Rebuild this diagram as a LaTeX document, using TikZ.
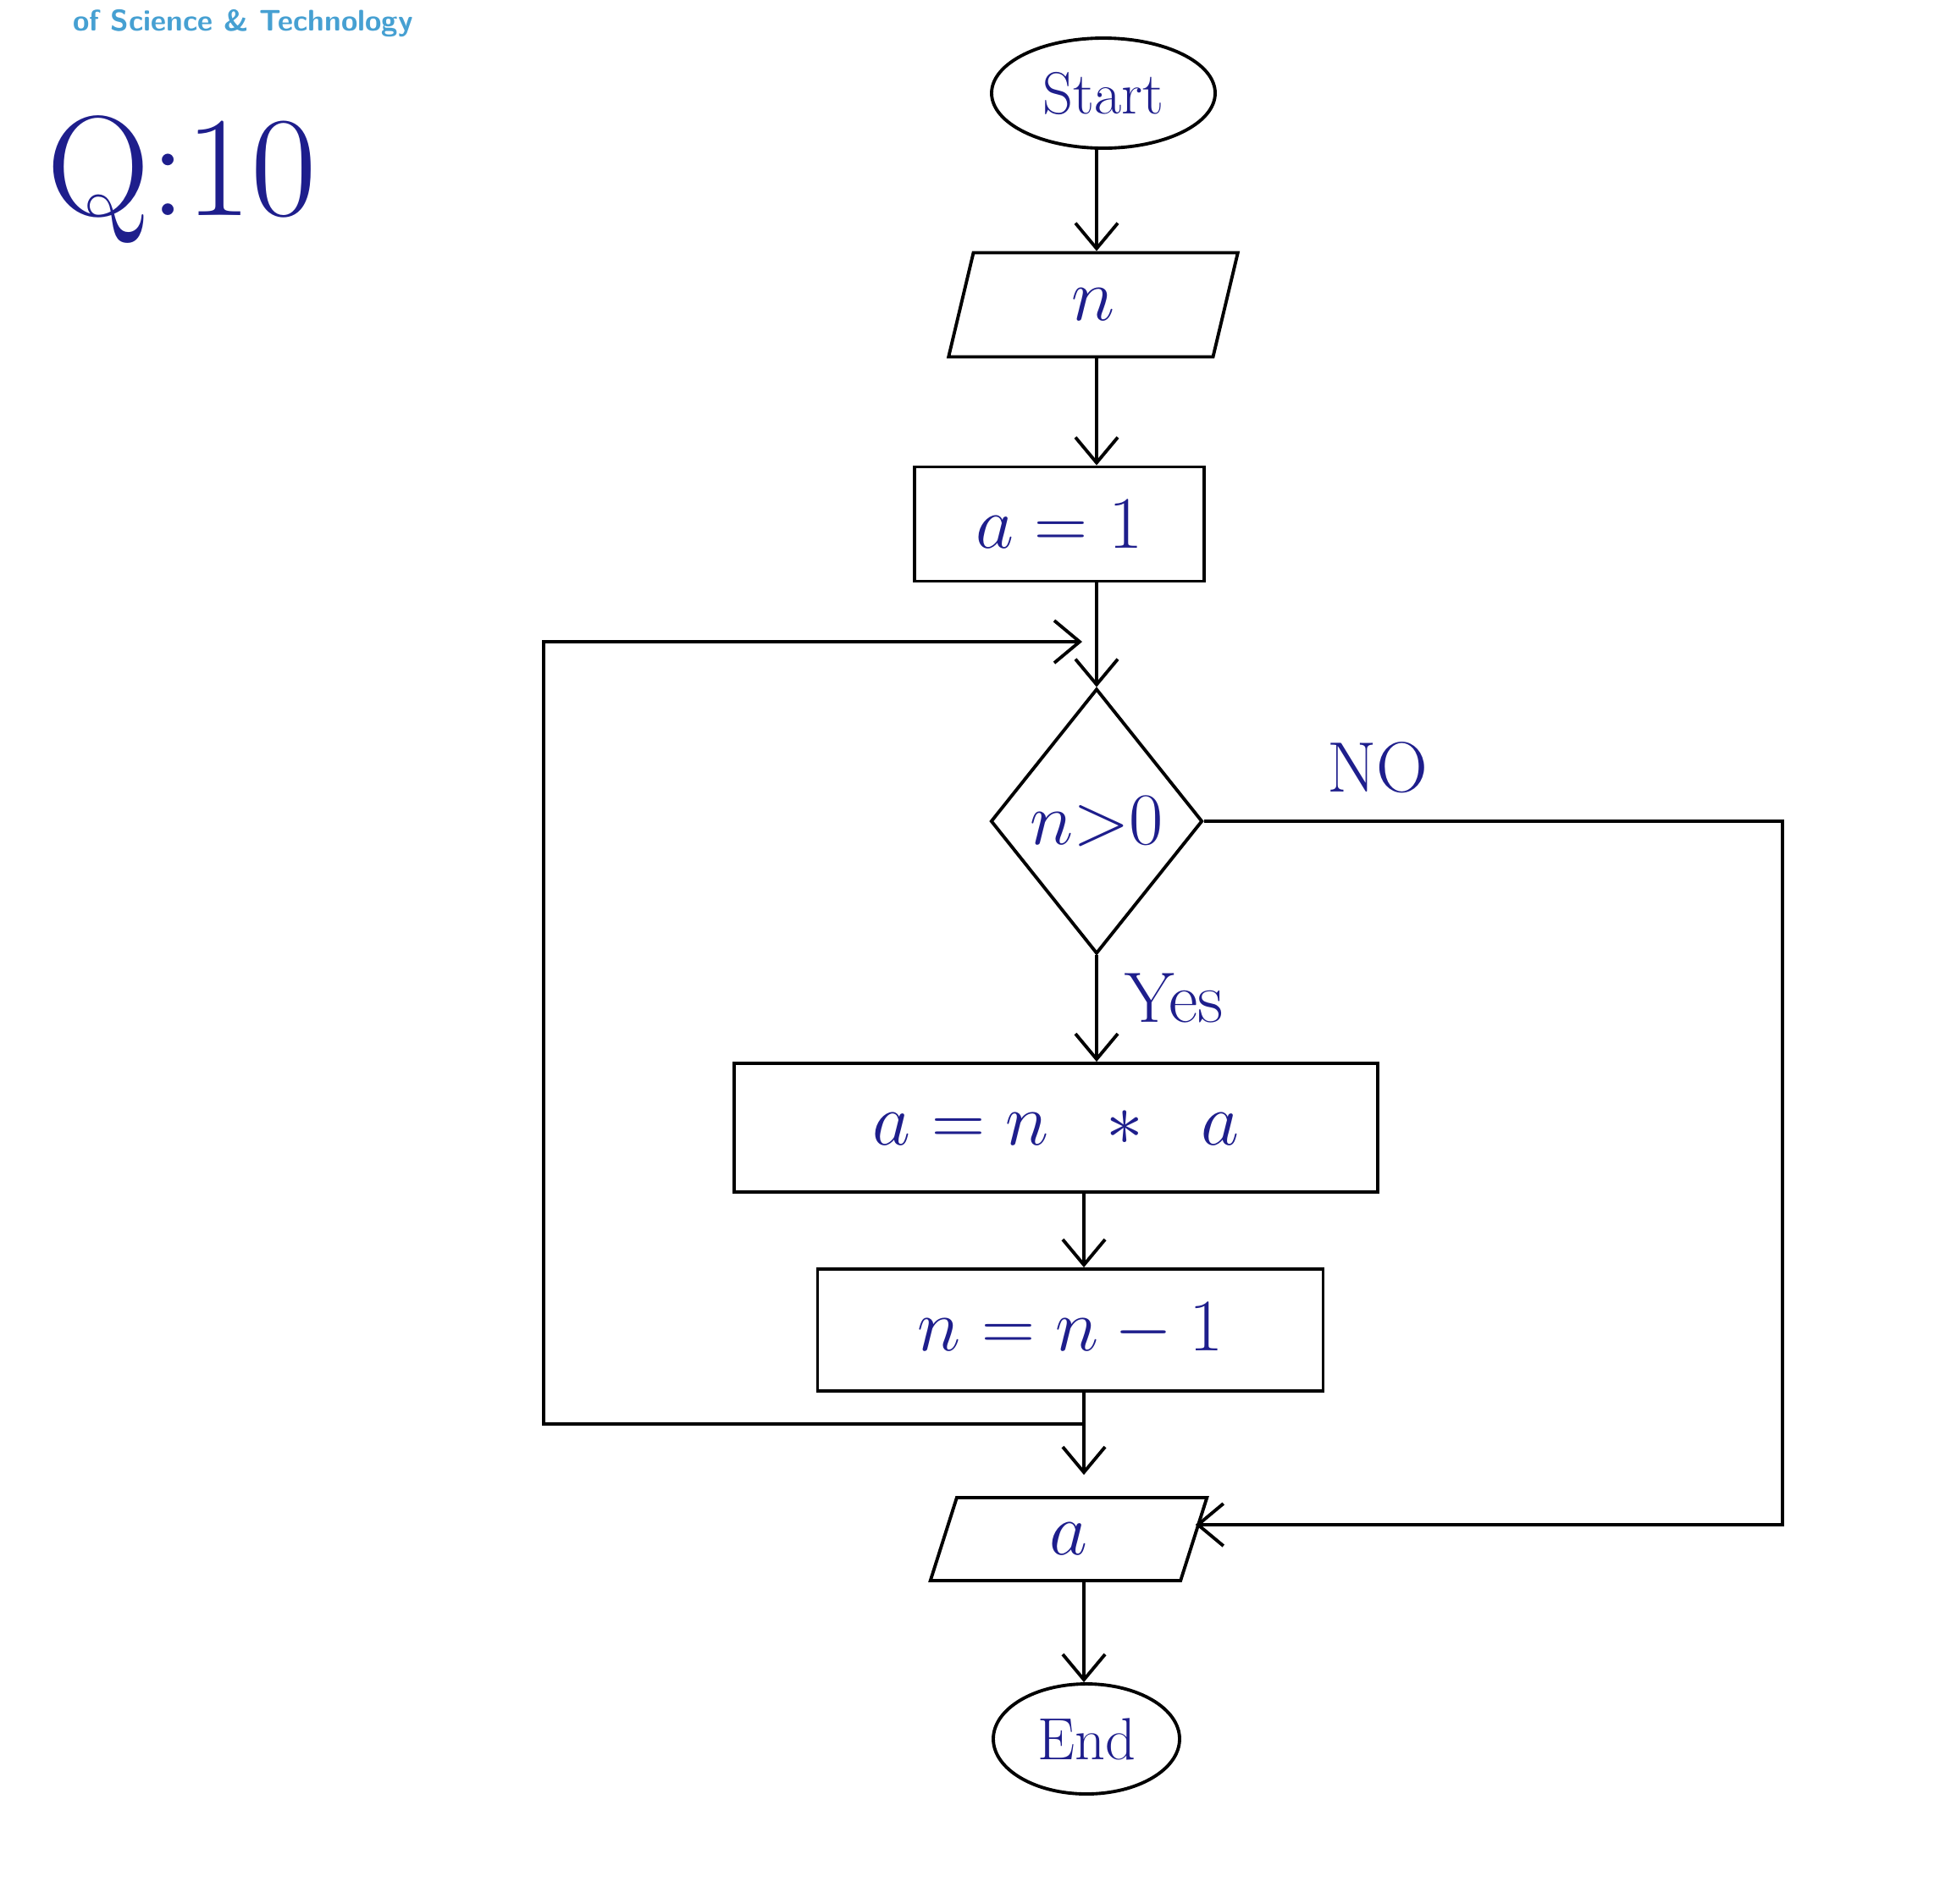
\documentclass[tikz,border=0pt]{standalone}
\usetikzlibrary{shapes.geometric, arrows.meta}
\definecolor{ink}{RGB}{30,30,140}
\definecolor{header}{RGB}{70,160,210}

\begin{document}
\begin{tikzpicture}[
    x=1cm,
    y=-1cm,
    line width=1.1pt,
    term/.style={draw, ellipse, inner sep=0pt, text=ink, font=\fontsize{20}{24}\selectfont},
    box/.style={draw, rectangle, inner sep=0pt, text=ink, font=\fontsize{32}{36}\selectfont},
    io/.style={draw, trapezium, trapezium left angle=82, trapezium right angle=98, trapezium stretches=true, inner sep=0pt, text=ink, font=\fontsize{30}{34}\selectfont},
    dec/.style={draw, diamond, aspect=0.8, inner sep=0pt, text=ink, font=\fontsize{24}{28}\selectfont},
    lbl/.style={text=ink, font=\fontsize{24}{28}\selectfont},
    e/.style={draw, -{Straight Barb[length=3mm, width=5mm]}},
]
    \useasboundingbox (0, 0) rectangle (23.04, 22.48);

    \node[anchor=base west, text=header, font=\sffamily\bfseries\fontsize{10}{12}\selectfont] (header) at (0.73, 0.36) {of Science \& Technology};
    \node[text=ink, font=\fontsize{48}{54}\selectfont] (qno) at (2.15, 2.12) {Q:10};

    \coordinate (colT) at (12.95, 0);
    \coordinate (colB) at (12.80, 0);

    \node[term, minimum width=2.64cm, minimum height=1.30cm] (start) at (13.03, 1.10) {Start};
    \node[io, minimum width=3.42cm, minimum height=1.23cm] (input) at (12.91, 3.60) {$n$};
    \node[box, minimum width=3.42cm, minimum height=1.35cm] (init) at (12.51, 6.19) {$a = 1$};
    \node[dec, minimum width=2.50cm, minimum height=3.13cm] (cond) at (12.95, 9.70) {$n{>}0$};
    \node[box, minimum width=7.60cm, minimum height=1.52cm, font=\fontsize{35}{40}\selectfont] (body) at (12.47, 13.32) {$a = n \;\; * \;\; a$};
    \node[box, minimum width=5.97cm, minimum height=1.44cm, font=\fontsize{35}{40}\selectfont] (upd) at (12.64, 15.71) {$n = n - 1$};
    \node[io, minimum width=3.27cm, minimum height=0.98cm] (output) at (12.62, 18.18) {$a$};
    \node[term, minimum width=2.20cm, minimum height=1.30cm] (end) at (12.83, 20.54) {End};

    \coordinate (jb) at (12.80, 16.82);
    \coordinate (loopT) at (12.78, 7.58);
    \coordinate (noR) at (21.05, 9.70);

    \path (start.south -| colT) edge[e] (input.north -| colT);
    \path (input.south -| colT) edge[e] (init.north -| colT);
    \path (init.south -| colT) edge[e] (cond.north);
    \path (cond.south) edge[e] node[lbl, pos=0.4, right=2mm] {Yes} (cond.south |- body.north);
    \path (body.south -| colB) edge[e] (upd.north -| colB);
    \path (upd.south -| colB) edge[e, shorten >=2.5mm] (output.north -| colB);
    \path (output.south -| colB) edge[e] (end.north -| colB);

    \draw[e] (jb) -- ++(-6.38, 0) |- (loopT);
    \draw[e] (cond.east) -- node[lbl, above=2mm, pos=0.3] {NO} (noR) |- ([yshift=1.7mm]output.east);
\end{tikzpicture}
\end{document}
